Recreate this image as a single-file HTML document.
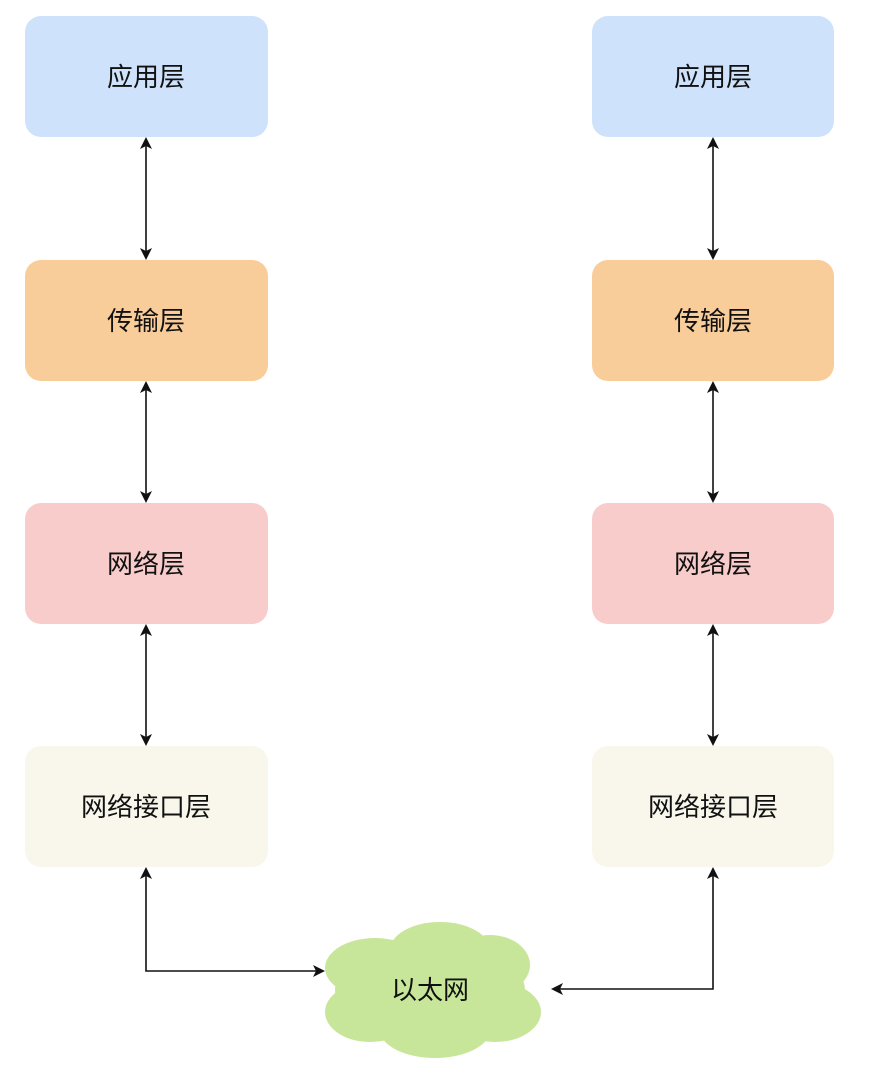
<!DOCTYPE html>
<html><head><meta charset="utf-8"><style>
body{margin:0;background:#fff;width:878px;height:1079px;overflow:hidden}
</style></head><body>
<svg width="878" height="1079" xmlns="http://www.w3.org/2000/svg" font-family="Liberation Sans, Noto Sans CJK SC, sans-serif">
<defs><marker id="a" markerWidth="12" markerHeight="12" refX="10" refY="6" orient="auto-start-reverse" markerUnits="userSpaceOnUse"><path d="M0,0 L12,6 L0,12 L3,6 z" fill="#111"/></marker></defs>
<g font-size="26" text-anchor="middle" fill="#111">
<rect x="25" y="16" width="243" height="121" rx="16" fill="#cfe2fb"/>
<rect x="592" y="16" width="242" height="121" rx="16" fill="#cfe2fb"/>
<rect x="25" y="260" width="243" height="121" rx="16" fill="#f9cd9a"/>
<rect x="592" y="260" width="242" height="121" rx="16" fill="#f9cd9a"/>
<rect x="25" y="503" width="243" height="121" rx="16" fill="#f9cccc"/>
<rect x="592" y="503" width="242" height="121" rx="16" fill="#f9cccc"/>
<rect x="25" y="746" width="243" height="121" rx="16" fill="#f9f7ec"/>
<rect x="592" y="746" width="242" height="121" rx="16" fill="#f9f7ec"/>
<text x="146" y="86">应用层</text><text x="713" y="86">应用层</text>
<text x="146" y="330">传输层</text><text x="713" y="330">传输层</text>
<text x="146" y="573">网络层</text><text x="713" y="573">网络层</text>
<text x="146" y="816">网络接口层</text><text x="713" y="816">网络接口层</text>
</g>
<g stroke="#111" stroke-width="1.6" fill="none" marker-start="url(#a)" marker-end="url(#a)">
<line x1="146" y1="139" x2="146" y2="258"/><line x1="713" y1="139" x2="713" y2="258"/>
<line x1="146" y1="383" x2="146" y2="501"/><line x1="713" y1="383" x2="713" y2="501"/>
<line x1="146" y1="626" x2="146" y2="744"/><line x1="713" y1="626" x2="713" y2="744"/>
<polyline points="146,869 146,971 323,971"/>
<polyline points="713,869 713,989 553,989"/>
</g>
<g fill="#c8e69a">
<ellipse cx="430" cy="990" rx="95" ry="50"/>
<ellipse cx="375" cy="968" rx="50" ry="30"/>
<ellipse cx="440" cy="950" rx="50" ry="28"/>
<ellipse cx="490" cy="965" rx="40" ry="30"/>
<ellipse cx="370" cy="1012" rx="45" ry="30"/>
<ellipse cx="495" cy="1012" rx="46" ry="30"/>
<ellipse cx="435" cy="1030" rx="55" ry="28"/>
</g>
<text x="430" y="999" font-size="26" text-anchor="middle" fill="#111">以太网</text>
</svg>
</body></html>
